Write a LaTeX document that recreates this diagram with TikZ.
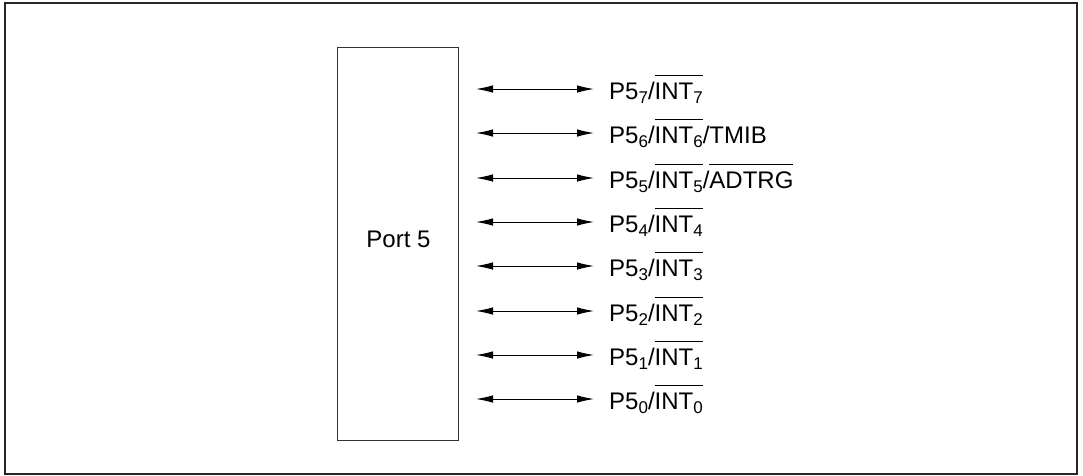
\documentclass[tikz,border=0pt]{standalone}
\usepackage{fontspec}
\setmainfont{Liberation Sans}
\usetikzlibrary{arrows.meta}
\newcommand\sbs[1]{\raisebox{-0.2em}{\fontsize{17pt}{17pt}\selectfont #1}}
\newcommand\ovl[1]{\leavevmode\vbox{\hrule height 0.9pt\kern 6.5pt\hbox{#1}}}
\begin{document}
\begin{tikzpicture}[x=1pt,y=-1pt,
  frame/.style={draw=black!85,line width=1.4pt},
  portbox/.style={draw=black!80,line width=1.4pt},
  sig/.style={{Latex[length=17pt,width=7.5pt]}-{Latex[length=17pt,width=7.5pt]},line width=1pt},
  lbl/.style={anchor=base west,inner sep=0pt,font=\fontsize{24pt}{28pt}\selectfont}]
\useasboundingbox (0,0) rectangle (1083,475);
\draw[frame] (5,3) rectangle (1077,474);
\node[portbox,minimum width=121pt,minimum height=393pt,anchor=north west,inner sep=0pt] (port) at (337,47) {};
\node[anchor=base,inner sep=0pt,font=\fontsize{24pt}{28pt}\selectfont] (plabel) at (398.5,247) {Port 5};
\foreach \i/\y/\t in {
  7/89/{P5\sbs{7}/\ovl{INT\sbs{7}}},
  6/133/{P5\sbs{6}/\ovl{INT\sbs{6}}/TMIB},
  5/178/{P5\sbs{5}/\ovl{INT\sbs{5}}/\ovl{ADTRG}},
  4/222/{P5\sbs{4}/\ovl{INT\sbs{4}}},
  3/266/{P5\sbs{3}/\ovl{INT\sbs{3}}},
  2/311/{P5\sbs{2}/\ovl{INT\sbs{2}}},
  1/355/{P5\sbs{1}/\ovl{INT\sbs{1}}},
  0/399/{P5\sbs{0}/\ovl{INT\sbs{0}}}} {
  \coordinate (l\i) at (476,\y);
  \coordinate (r\i) at (594,\y);
  \draw[sig] (l\i) -- (r\i);
  \node[lbl] (t\i) at (609,\y+10) {\t};
}
\end{tikzpicture}
\end{document}
